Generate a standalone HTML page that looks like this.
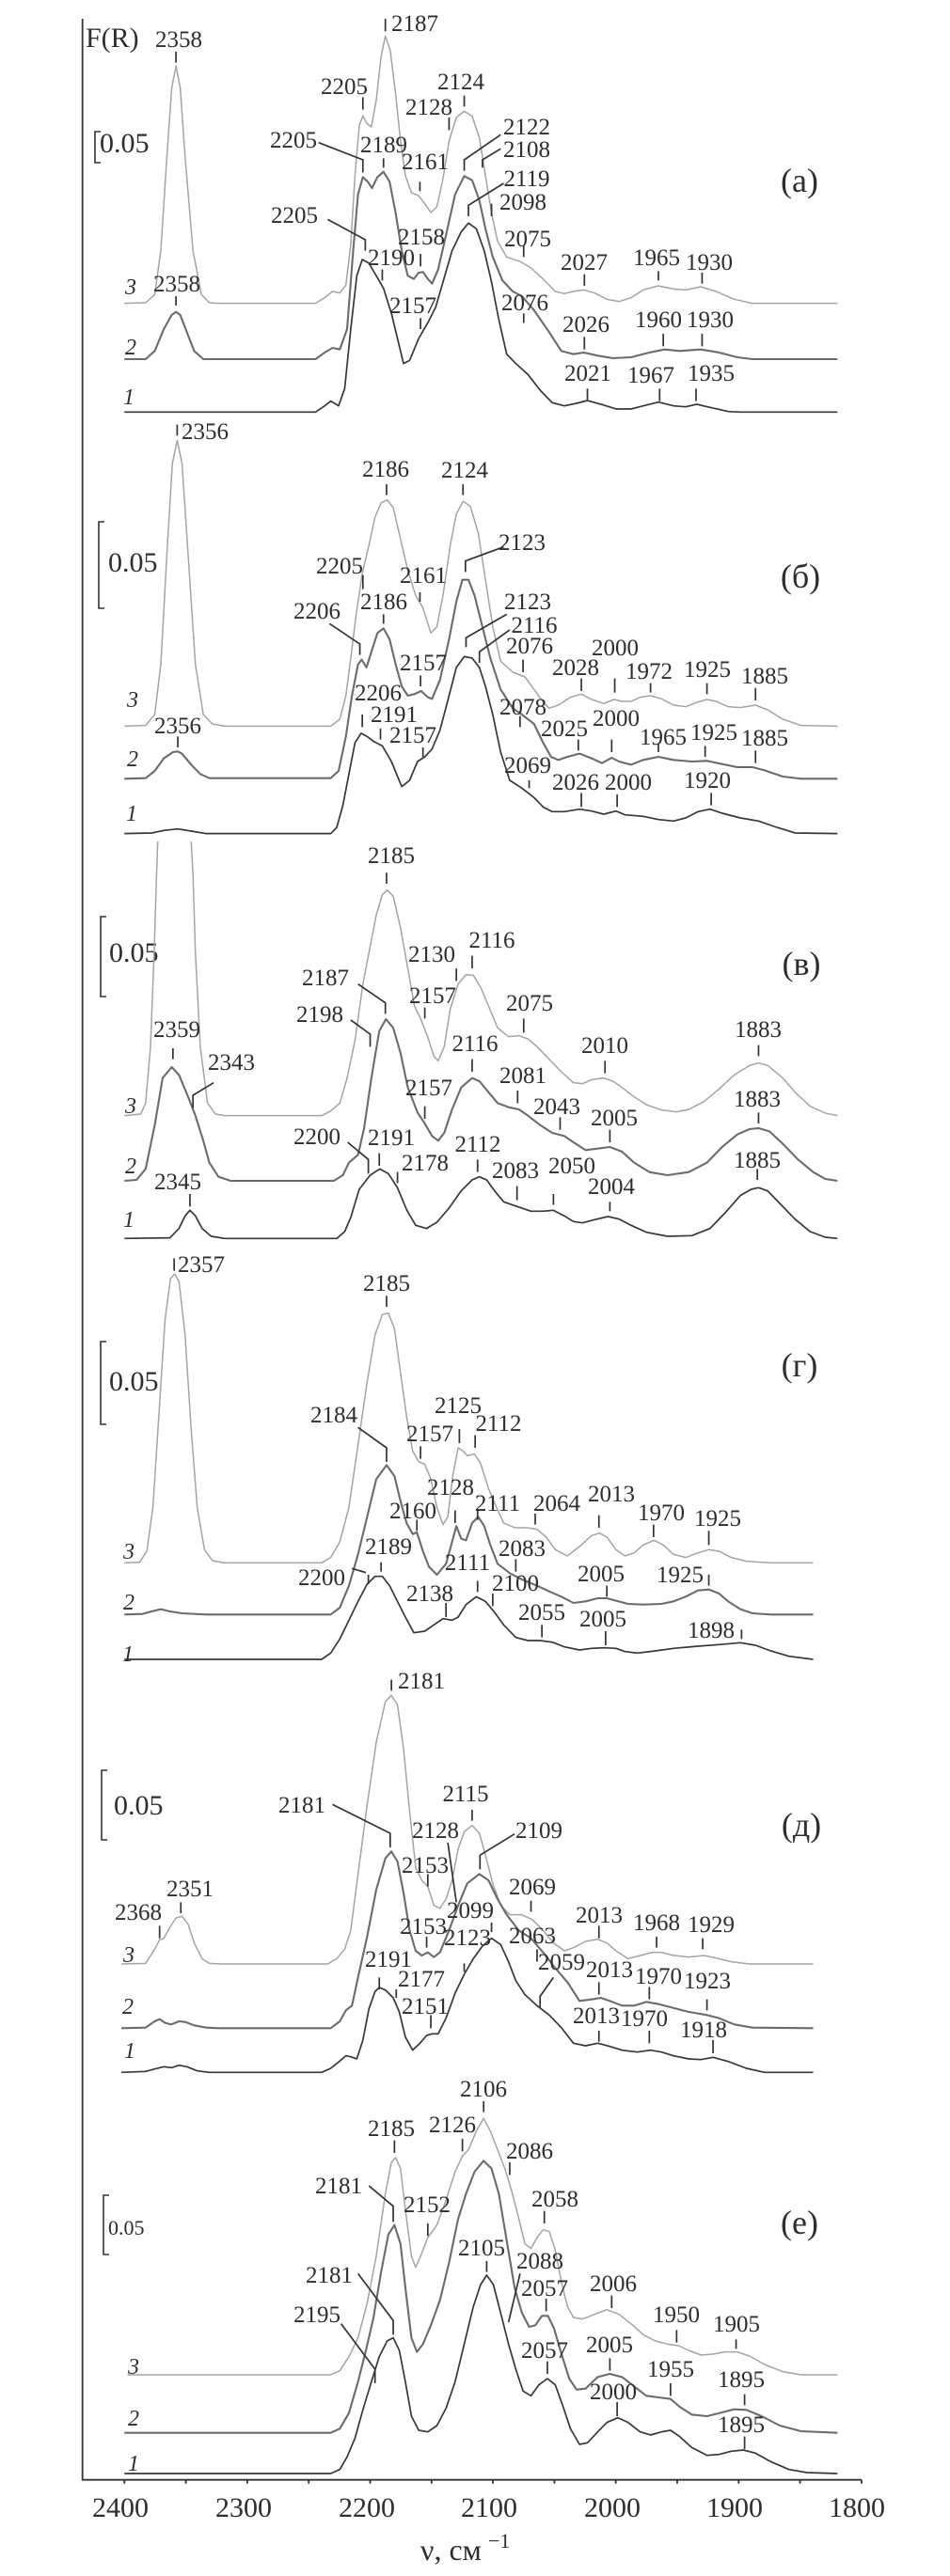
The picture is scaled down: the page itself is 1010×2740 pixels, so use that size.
<!DOCTYPE html>
<html><head><meta charset="utf-8">
<style>
html,body{margin:0;padding:0;background:#fff;}
svg{display:block;}
.c3{fill:none;stroke:#a4a4a4;stroke-width:1.5;vector-effect:non-scaling-stroke;stroke-linejoin:round}
.c2{fill:none;stroke:#6c6c6c;stroke-width:2.1;vector-effect:non-scaling-stroke;stroke-linejoin:round}
.c1{fill:none;stroke:#383838;stroke-width:1.7;vector-effect:non-scaling-stroke;stroke-linejoin:round}
.tk{fill:none;stroke:#333;stroke-width:1.7;vector-effect:non-scaling-stroke}
.ax{fill:none;stroke:#333;stroke-width:1.8}
text{font-family:"Liberation Serif",serif;fill:#2e2e2e}
.l{font-size:25px;text-anchor:middle}
.n{font-size:24px;font-style:italic}
.p{font-size:36px;text-anchor:middle}
.s{font-size:30px}
.t{font-size:30px;text-anchor:middle}
</style></head>
<body>
<svg width="1010" height="2740" viewBox="0 0 1010 2740" xmlns="http://www.w3.org/2000/svg">
<!-- axes -->
<path class="ax" d="M87.7 20 V2637.7 H916"/>
<path class="ax" d="M132.3 2637.7v4M197.6 2637.7v4M262.9 2637.7v4M328.2 2637.7v4M393.5 2637.7v4M458.8 2637.7v4M524.1 2637.7v4M589.4 2637.7v4M654.7 2637.7v4M720 2637.7v4M785.3 2637.7v4M850.6 2637.7v4M915.9 2637.7v4"/>
<text class="t" x="128" y="2677">2400</text>
<text class="t" x="259" y="2677">2300</text>
<text class="t" x="390" y="2677">2200</text>
<text class="t" x="520" y="2677">2100</text>
<text class="t" x="651" y="2677">2000</text>
<text class="t" x="781" y="2677">1900</text>
<text class="t" x="911" y="2677">1800</text>
<text x="447" y="2723" style="font-size:32px">ν, см</text>
<text x="519" y="2710" style="font-size:22px">−1</text>

<!-- ================= Panel (a) ================= -->
<text x="91" y="50" style="font-size:30px">F(R)</text>
<path class="ax" d="M107 140 H101 V173 H107" style="stroke-width:1.6"/>
<text class="s" x="106" y="162">0.05</text>
<text class="p" x="850" y="204">(а)</text>
<g transform="translate(0,0) scale(0.64516,0.33333)">
<polyline class="c3" points="205,968 240,966 255,940 265,800 275,500 283,280 290,210 297,280 305,500 318,800 332,940 345,966 360,968 520,968 535,950 548,930 560,935 570,910 578,780 585,560 592,400 598,370 605,395 612,405 620,320 628,180 635,115 643,160 652,300 660,450 668,560 678,615 690,625 700,650 710,678 720,660 730,570 740,450 752,375 765,355 778,370 790,440 800,560 810,680 820,770 835,820 858,835 875,855 895,890 915,930 930,937 945,930 962,925 980,935 1000,955 1020,962 1040,950 1060,925 1085,912 1110,922 1130,925 1155,915 1180,930 1210,955 1240,968 1380,968"/>
<polyline class="c2" points="205,1146 240,1146 255,1120 270,1050 283,1005 290,995 297,1005 308,1060 320,1120 335,1146 520,1146 535,1125 548,1110 560,1115 572,1050 582,800 590,620 598,565 606,580 613,600 622,565 632,548 642,580 652,680 662,800 672,880 682,890 690,870 697,868 705,890 712,905 722,860 735,750 750,620 765,562 778,575 790,640 800,730 812,820 828,895 845,930 860,945 880,990 905,1060 925,1120 945,1130 962,1125 985,1135 1010,1143 1040,1140 1070,1125 1095,1115 1120,1120 1155,1115 1185,1125 1215,1140 1240,1146 1380,1146"/>
<polyline class="c1" points="205,1315 520,1315 535,1295 545,1280 558,1295 568,1240 578,1050 588,880 597,828 608,840 620,880 632,920 645,1000 655,1080 665,1160 675,1150 690,1080 705,1030 718,980 730,900 745,800 760,740 772,712 785,730 798,800 810,900 822,1020 835,1130 850,1160 870,1195 890,1245 910,1285 930,1295 950,1287 968,1278 990,1290 1015,1305 1040,1305 1060,1295 1085,1283 1110,1295 1130,1298 1148,1290 1170,1300 1200,1313 1220,1315 1380,1315"/>
<path class="tk" d="M290 165V200M635 60V100M598 310V350M765 305V340M740 375V415M825 430L765 510V545M525 455L598 510V550M632 505V535M692 580V610M825 475L795 510V535M830 585L772 655V690M810 650V690M540 700L602 765V800M693 810V850M630 860V895M863 785V820M963 875V912M1085 865V895M1157 870V905M290 945V975M693 1015V1050M863 1000V1030M963 1075V1115M1093 1065V1105M1157 1065V1105M968 1240V1275M1087 1240V1280M1147 1240V1280"/>
</g>
<text class="l" x="190" y="50">2358</text>
<text class="l" x="441" y="33">2187</text>
<text class="l" x="366" y="100">2205</text>
<text class="l" x="490" y="95">2124</text>
<text class="l" x="456" y="122">2128</text>
<text class="l" x="560" y="143">2122</text>
<text class="l" x="312" y="157">2205</text>
<text class="l" x="408" y="162">2189</text>
<text class="l" x="452" y="180">2161</text>
<text class="l" x="560" y="167">2108</text>
<text class="l" x="560" y="198">2119</text>
<text class="l" x="556" y="223">2098</text>
<text class="l" x="313" y="237">2205</text>
<text class="l" x="448" y="260">2158</text>
<text class="l" x="416" y="282">2190</text>
<text class="l" x="561" y="262">2075</text>
<text class="l" x="621" y="287">2027</text>
<text class="l" x="698" y="282">1965</text>
<text class="l" x="754" y="287">1930</text>
<text class="l" x="188" y="310">2358</text>
<text class="l" x="439" y="333">2157</text>
<text class="l" x="558" y="330">2076</text>
<text class="l" x="623" y="353">2026</text>
<text class="l" x="700" y="348">1960</text>
<text class="l" x="755" y="348">1930</text>
<text class="l" x="625" y="405">2021</text>
<text class="l" x="692" y="407">1967</text>
<text class="l" x="756" y="405">1935</text>
<text class="n" x="133" y="313">3</text>
<text class="n" x="133" y="377">2</text>
<text class="n" x="131" y="430">1</text>

<!-- ================= Panel (б) ================= -->
<path class="ax" d="M111 555 H105 V647 H111" style="stroke-width:1.6"/>
<text class="s" x="115" y="608">0.05</text>
<text class="p" x="851" y="625">(б)</text>
<g transform="translate(0,440) scale(0.64516,0.33333)">
<polyline class="c3" points="205,997 240,995 255,960 265,800 275,450 284,160 292,85 300,160 310,450 322,800 335,960 350,990 370,997 545,997 560,975 570,900 578,780 587,640 597,510 608,420 618,330 628,285 638,275 648,300 660,400 672,500 685,580 697,620 710,700 720,680 730,580 742,420 752,320 763,280 775,295 788,380 800,530 812,680 825,790 845,825 865,840 880,880 895,920 905,940 920,930 940,905 958,895 975,912 995,925 1012,912 1025,918 1040,918 1055,905 1072,900 1090,910 1110,930 1130,935 1150,920 1165,912 1180,918 1200,935 1220,938 1245,930 1265,945 1290,975 1320,995 1380,997"/>
<polyline class="c2" points="205,1165 240,1163 255,1140 270,1100 285,1080 293,1078 300,1085 315,1120 330,1150 345,1163 545,1163 558,1140 570,1030 580,900 590,800 596,785 604,810 612,760 622,700 632,685 642,720 652,800 662,870 672,900 683,895 694,885 705,905 712,910 725,850 740,720 752,600 762,530 772,530 782,580 795,680 808,780 825,880 845,940 860,960 880,990 895,1050 908,1095 920,1105 935,1095 955,1085 975,1100 992,1115 1008,1098 1020,1110 1040,1120 1060,1105 1085,1095 1110,1105 1140,1110 1165,1108 1190,1118 1215,1128 1240,1128 1260,1138 1290,1158 1320,1165 1380,1165"/>
<polyline class="c1" points="205,1340 250,1338 270,1330 293,1325 315,1332 340,1340 545,1340 555,1320 565,1250 575,1150 585,1050 595,1020 605,1030 615,1045 630,1060 645,1110 662,1190 675,1170 688,1110 700,1095 712,1070 725,1010 740,900 752,810 765,775 778,780 790,810 800,870 812,960 825,1080 840,1170 860,1195 880,1225 895,1255 910,1270 930,1270 955,1262 975,1268 995,1278 1015,1268 1030,1280 1060,1285 1085,1295 1110,1300 1130,1290 1150,1270 1170,1262 1190,1275 1220,1290 1250,1300 1280,1320 1310,1338 1380,1340"/>
<path class="tk" d="M292 35V70M637 225V260M763 225V260M830 425L767 470V505M598 515V560M692 570V600M543 670L593 735V770M632 640V670M835 640L768 715V745M840 690L790 760V795M862 785V825M1013 845V890M958 845V885M1072 860V890M1165 860V895M1245 875V915M693 835V870M597 960V1000M627 1005V1040M697 1065V1095M857 965V1000M953 1040V1075M1008 1040V1080M1085 1055V1080M1162 1060V1095M1245 1075V1115M872 1170V1195M958 1210V1255M1017 1215V1255M1172 1210V1250M293 1030V1065"/>
</g>
<text class="l" x="218" y="467">2356</text>
<text class="l" x="410" y="507">2186</text>
<text class="l" x="494" y="508">2124</text>
<text class="l" x="555" y="585">2123</text>
<text class="l" x="361" y="610">2205</text>
<text class="l" x="450" y="620">2161</text>
<text class="l" x="337" y="658">2206</text>
<text class="l" x="408" y="648">2186</text>
<text class="l" x="561" y="648">2123</text>
<text class="l" x="568" y="673">2116</text>
<text class="l" x="563" y="695">2076</text>
<text class="l" x="654" y="697">2000</text>
<text class="l" x="612" y="718">2028</text>
<text class="l" x="690" y="722">1972</text>
<text class="l" x="752" y="720">1925</text>
<text class="l" x="813" y="727">1885</text>
<text class="l" x="450" y="713">2157</text>
<text class="l" x="402" y="745">2206</text>
<text class="l" x="419" y="768">2191</text>
<text class="l" x="439" y="790">2157</text>
<text class="l" x="556" y="760">2078</text>
<text class="l" x="600" y="783">2025</text>
<text class="l" x="655" y="772">2000</text>
<text class="l" x="705" y="792">1965</text>
<text class="l" x="759" y="787">1925</text>
<text class="l" x="813" y="793">1885</text>
<text class="l" x="561" y="822">2069</text>
<text class="l" x="612" y="840">2026</text>
<text class="l" x="668" y="840">2000</text>
<text class="l" x="752" y="838">1920</text>
<text class="l" x="189" y="780">2356</text>
<text class="n" x="135" y="752">3</text>
<text class="n" x="135" y="815">2</text>
<text class="n" x="134" y="873">1</text>

<!-- ================= Panel (в) ================= -->
<path class="ax" d="M113 975 H107 V1060 H113" style="stroke-width:1.6"/>
<text class="s" x="116" y="1023">0.05</text>
<text class="p" x="852" y="1037">(в)</text>
<g transform="translate(0,880) scale(0.64516,0.33333)">
<path class="c3" d="M205 920 L232 915 L240 880 L248 700 L254 400 L258 150 L260 45 M315 45 L318 150 L322 400 L330 700 L342 880 L355 915 L370 920 L530 920 L545 905 L560 880 L572 800 L585 680 L598 500 L610 380 L620 280 L630 215 L638 200 L648 220 L660 320 L672 450 L683 570 L693 610 L705 670 L715 730 L722 745 L732 700 L742 580 L755 500 L768 470 L780 472 L792 510 L805 570 L820 640 L838 668 L855 665 L870 675 L885 700 L905 740 L925 780 L945 815 L960 818 L975 805 L995 800 L1010 810 L1025 830 L1045 860 L1065 885 L1090 902 L1115 908 L1135 900 L1160 875 L1185 835 L1210 790 L1235 760 L1250 752 L1265 760 L1290 800 L1310 845 L1335 890 L1360 912 L1380 920"/>
<polyline class="c2" points="205,1128 225,1125 240,1090 255,950 268,800 283,765 295,790 310,860 322,920 335,1000 345,1070 360,1115 380,1128 550,1128 565,1110 575,1070 590,1045 600,960 612,800 625,650 636,612 648,640 660,720 672,830 688,910 700,945 712,985 722,1000 732,975 745,900 760,830 778,800 790,810 805,845 820,880 838,893 855,900 870,920 890,950 910,975 930,985 945,1005 965,1030 985,1025 1005,1020 1025,1035 1045,1070 1070,1100 1100,1110 1135,1100 1165,1070 1190,1020 1215,980 1235,963 1250,960 1268,970 1290,1010 1315,1060 1340,1100 1360,1122 1380,1128"/>
<polyline class="c1" points="205,1312 280,1310 295,1280 305,1240 313,1222 322,1240 333,1280 348,1305 370,1312 555,1312 568,1290 578,1245 592,1155 610,1110 626,1090 640,1105 655,1150 670,1220 685,1270 703,1280 720,1260 740,1215 760,1160 778,1125 790,1115 802,1125 815,1160 830,1195 852,1210 875,1225 895,1225 912,1222 930,1240 945,1258 960,1262 980,1252 1002,1242 1020,1250 1040,1270 1065,1292 1100,1305 1140,1303 1170,1280 1195,1230 1220,1175 1238,1155 1250,1150 1265,1160 1285,1200 1310,1250 1335,1290 1360,1308 1380,1312"/>
<path class="tk" d="M637 145V180M752 450V490M778 410V450M590 500L635 560V595M700 575V610M578 615L610 660V700M863 610V655M285 705V740M1250 695V730M997 745V785M778 740V780M352 815L318 855V895M853 840V880M700 890V930M923 925V965M1250 910V945M1005 965V1005M573 1005L607 1060V1105M625 1040V1080M655 1100V1135M787 1060V1100M852 1145V1190M912 1170V1205M1005 1195V1225M1248 1090V1125M313 1170V1210"/>
</g>
<text class="l" x="416" y="918">2185</text>
<text class="l" x="459" y="1023">2130</text>
<text class="l" x="523" y="1008">2116</text>
<text class="l" x="346" y="1048">2187</text>
<text class="l" x="460" y="1067">2157</text>
<text class="l" x="340" y="1087">2198</text>
<text class="l" x="563" y="1075">2075</text>
<text class="l" x="188" y="1103">2359</text>
<text class="l" x="806" y="1103">1883</text>
<text class="l" x="643" y="1120">2010</text>
<text class="l" x="505" y="1118">2116</text>
<text class="l" x="246" y="1138">2343</text>
<text class="l" x="556" y="1152">2081</text>
<text class="l" x="456" y="1165">2157</text>
<text class="l" x="592" y="1185">2043</text>
<text class="l" x="805" y="1177">1883</text>
<text class="l" x="653" y="1197">2005</text>
<text class="l" x="337" y="1217">2200</text>
<text class="l" x="416" y="1218">2191</text>
<text class="l" x="452" y="1245">2178</text>
<text class="l" x="508" y="1225">2112</text>
<text class="l" x="548" y="1253">2083</text>
<text class="l" x="608" y="1248">2050</text>
<text class="l" x="650" y="1270">2004</text>
<text class="l" x="805" y="1242">1885</text>
<text class="l" x="189" y="1265">2345</text>
<text class="n" x="133" y="1184">3</text>
<text class="n" x="133" y="1248">2</text>
<text class="n" x="131" y="1305">1</text>

<!-- ================= Panel (г) ================= -->
<path class="ax" d="M113 1427 H107 V1515 H113" style="stroke-width:1.6"/>
<text class="s" x="116" y="1479">0.05</text>
<text class="p" x="850" y="1464">(г)</text>
<g transform="translate(0,1320) scale(0.64516,0.33333)">
<polyline class="c3" points="205,1027 230,1025 242,990 252,850 262,550 272,250 281,120 288,105 295,130 305,300 315,600 325,850 337,985 350,1020 370,1027 530,1027 545,1010 560,960 575,850 590,650 605,450 618,300 630,235 640,230 650,280 660,420 670,560 680,670 690,705 700,712 710,760 720,850 730,905 738,880 746,750 755,660 763,670 770,685 782,680 792,710 805,790 818,850 830,900 848,915 868,915 885,920 900,945 915,985 935,1005 955,975 975,940 988,932 1000,945 1015,985 1030,1005 1045,995 1060,970 1078,955 1093,970 1110,1000 1130,1010 1150,995 1168,985 1185,990 1205,1010 1230,1022 1270,1027 1340,1027"/>
<polyline class="c2" points="205,1192 235,1190 250,1182 265,1175 280,1182 300,1188 340,1192 545,1192 560,1170 575,1100 590,1000 605,880 620,760 637,715 650,750 660,830 670,900 680,935 687,930 697,990 707,1040 720,1065 735,1030 745,960 752,910 760,950 768,955 778,900 788,880 798,910 808,970 820,1030 840,1060 860,1080 885,1100 905,1118 925,1135 945,1155 965,1150 985,1140 1000,1140 1015,1148 1035,1158 1060,1160 1090,1158 1110,1150 1130,1135 1150,1115 1168,1112 1185,1125 1200,1150 1220,1175 1240,1188 1270,1192 1340,1192"/>
<polyline class="c1" points="205,1335 530,1335 545,1315 560,1270 575,1210 590,1150 605,1095 618,1070 630,1070 642,1100 655,1150 668,1200 682,1250 700,1245 715,1225 730,1205 745,1210 755,1200 768,1160 785,1135 800,1150 815,1185 830,1225 850,1265 870,1275 890,1275 910,1280 930,1295 955,1305 975,1300 995,1298 1015,1300 1030,1310 1050,1315 1080,1308 1110,1300 1150,1293 1185,1288 1220,1282 1245,1290 1270,1308 1300,1325 1340,1335"/>
<path class="tk" d="M287 55V95M637 175V210M757 600V645M783 620V660M693 655V695M590 595L637 660V705M750 860V900M687 890V925M787 855V890M882 870V905M987 875V915M1077 905V945M1168 925V970M628 1025V1055M850 1015V1055M580 1045L603 1058M607 1065V1095M787 1085V1120M812 1125V1165M1000 1100V1135M1168 1065V1100M735 1155V1200M893 1225V1265M998 1245V1290M1222 1240V1270"/>
</g>
<text class="l" x="214" y="1353">2357</text>
<text class="l" x="411" y="1373">2185</text>
<text class="l" x="487" y="1503">2125</text>
<text class="l" x="457" y="1533">2157</text>
<text class="l" x="530" y="1522">2112</text>
<text class="l" x="355" y="1513">2184</text>
<text class="l" x="479" y="1590">2128</text>
<text class="l" x="439" y="1615">2160</text>
<text class="l" x="529" y="1607">2111</text>
<text class="l" x="592" y="1607">2064</text>
<text class="l" x="650" y="1597">2013</text>
<text class="l" x="703" y="1617">1970</text>
<text class="l" x="763" y="1623">1925</text>
<text class="l" x="413" y="1653">2189</text>
<text class="l" x="555" y="1655">2083</text>
<text class="l" x="342" y="1686">2200</text>
<text class="l" x="497" y="1670">2111</text>
<text class="l" x="548" y="1692">2100</text>
<text class="l" x="639" y="1682">2005</text>
<text class="l" x="723" y="1683">1925</text>
<text class="l" x="457" y="1703">2138</text>
<text class="l" x="576" y="1723">2055</text>
<text class="l" x="641" y="1730">2005</text>
<text class="l" x="756" y="1742">1898</text>
<text class="n" x="131" y="1658">3</text>
<text class="n" x="131" y="1712">2</text>
<text class="n" x="130" y="1767">1</text>

<!-- ================= Panel (д) ================= -->
<path class="ax" d="M114 1883 H108 V1957 H114" style="stroke-width:1.6"/>
<text class="s" x="121" y="1930">0.05</text>
<text class="p" x="852" y="1953">(д)</text>
<g transform="translate(0,1760) scale(0.64516,0.33333)">
<polyline class="c3" points="200,987 240,985 255,940 263,910 270,905 280,870 290,840 300,835 310,860 320,920 333,970 345,985 365,987 540,987 555,970 568,940 578,880 590,700 605,480 620,280 635,150 645,130 655,160 665,300 675,500 685,680 695,720 705,740 715,800 725,810 735,780 745,720 755,620 765,565 778,545 790,570 800,640 812,730 825,800 840,830 860,830 877,845 895,880 912,920 930,945 945,935 965,915 985,908 1000,920 1015,945 1035,970 1055,960 1075,950 1090,950 1110,960 1135,965 1160,960 1180,968 1205,980 1235,987 1340,987"/>
<polyline class="c2" points="200,1192 240,1190 255,1170 263,1163 272,1175 282,1180 295,1170 305,1172 320,1183 340,1190 360,1192 545,1192 560,1170 570,1135 580,1120 590,1030 605,900 620,750 635,650 645,628 655,660 665,760 675,880 685,945 695,960 705,950 715,965 725,950 740,880 755,800 770,730 790,700 805,720 820,780 835,830 855,880 875,905 895,950 915,1000 935,1045 955,1105 975,1100 990,1095 1005,1105 1025,1120 1045,1120 1065,1108 1085,1115 1105,1125 1135,1140 1165,1150 1185,1160 1210,1180 1240,1190 1340,1192"/>
<polyline class="c1" points="200,1333 240,1330 255,1322 270,1315 283,1318 295,1310 308,1315 325,1328 345,1333 530,1333 545,1320 558,1300 570,1280 578,1283 588,1290 598,1230 608,1130 618,1075 625,1062 635,1070 648,1095 658,1140 668,1220 680,1262 692,1240 703,1215 712,1210 722,1210 735,1160 750,1080 765,1020 780,970 795,930 810,905 825,925 838,980 850,1040 865,1085 885,1120 905,1150 925,1190 945,1240 965,1248 985,1240 1005,1250 1025,1262 1050,1268 1072,1262 1090,1268 1110,1280 1135,1290 1155,1292 1175,1285 1200,1298 1230,1320 1260,1333 1340,1333"/>
<path class="tk" d="M645 80V115M548 478L643 570V615M778 495V530M738 600L752 790M848 572L791 640V685M705 700V740M298 790V825M263 865V905M875 785V820M810 855V885M703 900V935M765 985V1012M885 940V980M987 865V905M1082 900V935M1158 905V940M625 1030V1068M653 1068V1095M912 1030L890 1090V1125M987 1045V1085M1070 1060V1100M1165 1100V1135M710 1150V1192M987 1200V1235M1070 1200V1240M1175 1230V1272"/>
</g>
<text class="l" x="448" y="1796">2181</text>
<text class="l" x="321" y="1928">2181</text>
<text class="l" x="495" y="1916">2115</text>
<text class="l" x="463" y="1955">2128</text>
<text class="l" x="573" y="1955">2109</text>
<text class="l" x="452" y="1992">2153</text>
<text class="l" x="202" y="2017">2351</text>
<text class="l" x="147" y="2042">2368</text>
<text class="l" x="566" y="2015">2069</text>
<text class="l" x="500" y="2040">2099</text>
<text class="l" x="450" y="2057">2153</text>
<text class="l" x="497" y="2069">2123</text>
<text class="l" x="566" y="2067">2063</text>
<text class="l" x="637" y="2045">2013</text>
<text class="l" x="698" y="2053">1968</text>
<text class="l" x="756" y="2055">1929</text>
<text class="l" x="413" y="2092">2191</text>
<text class="l" x="448" y="2113">2177</text>
<text class="l" x="597" y="2095">2059</text>
<text class="l" x="648" y="2103">2013</text>
<text class="l" x="700" y="2110">1970</text>
<text class="l" x="752" y="2115">1923</text>
<text class="l" x="452" y="2142">2151</text>
<text class="l" x="634" y="2152">2013</text>
<text class="l" x="685" y="2155">1970</text>
<text class="l" x="748" y="2167">1918</text>
<text class="n" x="131" y="2087">3</text>
<text class="n" x="130" y="2142">2</text>
<text class="n" x="132" y="2189">1</text>

<!-- ================= Panel (е) ================= -->
<path class="ax" d="M116 2335 H110 V2398 H116" style="stroke-width:1.6"/>
<text x="115" y="2377" style="font-size:22px">0.05</text>
<text class="p" x="850" y="2376">(е)</text>
<g transform="translate(0,2200) scale(0.64516,0.33333)">
<polyline class="c3" points="210,978 545,978 560,965 575,920 590,860 605,750 620,600 635,400 645,300 652,285 660,320 668,450 678,600 685,635 693,600 705,540 720,500 735,420 750,330 762,280 772,260 785,200 797,160 808,200 820,260 832,320 843,390 855,480 865,560 875,575 885,540 895,515 905,520 915,580 925,680 935,760 945,795 960,800 980,785 1000,770 1020,785 1040,815 1060,850 1080,870 1100,880 1118,885 1135,900 1155,915 1175,912 1195,905 1215,905 1235,918 1260,945 1290,968 1320,978 1380,978"/>
<polyline class="c2" points="205,1163 545,1163 560,1150 575,1100 590,1000 603,900 615,800 628,650 640,530 650,500 660,560 668,700 678,860 687,905 697,880 710,820 725,740 740,620 755,480 768,400 782,330 797,295 810,320 822,400 835,550 848,700 860,780 872,825 882,820 893,790 903,790 913,830 925,910 938,990 950,1025 965,1022 985,985 1005,975 1025,985 1045,1015 1065,1045 1085,1050 1105,1055 1120,1080 1140,1105 1165,1110 1190,1098 1210,1088 1230,1090 1255,1110 1285,1140 1320,1158 1380,1163"/>
<polyline class="c1" points="205,1293 545,1293 560,1280 572,1240 585,1180 598,1090 612,1000 625,920 638,870 648,860 658,900 668,1000 678,1110 690,1155 705,1160 720,1140 735,1085 750,1000 765,880 780,760 792,690 802,660 813,690 825,780 838,880 850,960 862,1030 875,1045 888,1010 902,990 915,1010 928,1080 940,1150 955,1200 968,1195 985,1160 1000,1130 1018,1115 1035,1130 1055,1160 1072,1170 1090,1160 1105,1155 1120,1175 1140,1210 1165,1235 1185,1232 1205,1222 1225,1218 1245,1228 1270,1255 1300,1280 1330,1290 1380,1293"/>
<path class="tk" d="M797 105V140M650 230V270M762 225V265M840 300V340M608 375L648 440V490M705 495V535M897 455V495M802 615V650M857 655L838 810M900 735V775M590 655L648 805V850M1008 725V765M562 815L618 960V1005M1115 835V875M1213 865V895M902 935V975M1005 925V965M1105 1005V1045M1227 1040V1075M1017 1065V1110M1227 1175V1215"/>
</g>
<text class="l" x="514" y="2230">2106</text>
<text class="l" x="416" y="2272">2185</text>
<text class="l" x="481" y="2268">2126</text>
<text class="l" x="563" y="2296">2086</text>
<text class="l" x="360" y="2333">2181</text>
<text class="l" x="454" y="2353">2152</text>
<text class="l" x="590" y="2347">2058</text>
<text class="l" x="512" y="2399">2105</text>
<text class="l" x="574" y="2413">2088</text>
<text class="l" x="579" y="2442">2057</text>
<text class="l" x="350" y="2428">2181</text>
<text class="l" x="652" y="2437">2006</text>
<text class="l" x="337" y="2470">2195</text>
<text class="l" x="719" y="2470">1950</text>
<text class="l" x="783" y="2480">1905</text>
<text class="l" x="579" y="2508">2057</text>
<text class="l" x="648" y="2502">2005</text>
<text class="l" x="713" y="2528">1955</text>
<text class="l" x="788" y="2539">1895</text>
<text class="l" x="652" y="2552">2000</text>
<text class="l" x="788" y="2587">1895</text>
<text class="n" x="136" y="2525">3</text>
<text class="n" x="136" y="2580">2</text>
<text class="n" x="136" y="2628">1</text>
</svg>
</body></html>
